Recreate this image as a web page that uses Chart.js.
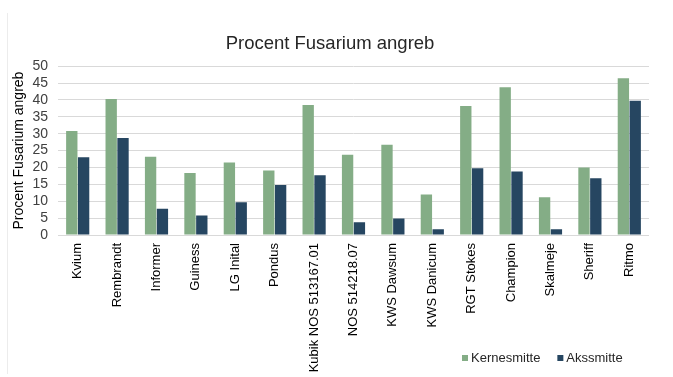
<!DOCTYPE html>
<html>
<head>
<meta charset="utf-8">
<script src="https://cdn.jsdelivr.net/npm/chart.js@4"></script>
<style>
	html, body { margin: 0; padding: 0; background: #fff; }
	canvas { display: block; }
</style>
</head>
<body>
<canvas id="chart" width="673" height="377"></canvas>
<script>
const categories = ['Kvium', 'Rembrandt', 'Informer', 'Guiness', 'LG Inital', 'Pondus',
	'Kubik NOS 513167.01', 'NOS 514218.07', 'KWS Dawsum', 'KWS Danicum', 'RGT Stokes',
	'Champion', 'Skalmeje', 'Sheriff', 'Ritmo'];
const kernesmitte = [30.8, 40.3, 23.2, 18.4, 21.5, 19.1, 38.5, 23.8, 26.7, 12.0, 38.2, 43.8, 11.2, 20.0, 46.4];
const akssmitte = [23.0, 28.7, 7.8, 5.8, 9.7, 14.8, 17.7, 3.8, 4.9, 1.7, 19.8, 18.8, 1.7, 16.8, 39.8];

const font = 'Arial, "Liberation Sans", sans-serif';
Chart.defaults.font.family = font;
Chart.defaults.color = '#404040';

// legend drawn by hand so the long rotated labels can run down beside it
const bottomLegend = {
	id: 'bottomLegend',
	beforeDraw(chart) {
		// faint frame edge on the left, as in the pasted chart
		const ctx = chart.ctx;
		ctx.save();
		ctx.strokeStyle = '#ececec';
		ctx.lineWidth = 1;
		ctx.beginPath();
		ctx.moveTo(7.5, 13);
		ctx.lineTo(7.5, 374);
		ctx.stroke();
		ctx.restore();
	},
	afterDraw(chart) {
		const ctx = chart.ctx;
		ctx.save();
		ctx.font = '13px ' + font;
		ctx.textBaseline = 'middle';
		let x = 462;
		const y = 358;
		chart.data.datasets.forEach((ds) => {
			ctx.fillStyle = ds.backgroundColor;
			ctx.fillRect(x, y - 3, 6, 6);
			ctx.fillStyle = '#262626';
			ctx.fillText(ds.label, x + 9, y);
			x += 9 + ctx.measureText(ds.label).width + 17;
		});
		ctx.restore();
	}
};

const context = document.getElementById('chart').getContext('2d');

const chart = new Chart(context, {
	type: 'bar',
	data: {
		labels: categories,
		datasets: [{
			label: 'Kernesmitte',
			data: kernesmitte,
			backgroundColor: '#84ad86',
			borderWidth: 0,
			categoryPercentage: 0.6,
			barPercentage: 0.96
		}, {
			label: 'Akssmitte',
			data: akssmitte,
			backgroundColor: '#264661',
			borderWidth: 0,
			categoryPercentage: 0.6,
			barPercentage: 0.96
		}]
	},
	options: {
		responsive: false,
		animation: false,
		layout: {
			padding: { left: 11, right: 24, top: 33, bottom: 0 }
		},
		scales: {
			x: {
				grid: { display: false },
				border: { display: false },
				ticks: {
					color: '#000000',
					font: { size: 13 },
					maxRotation: 90,
					minRotation: 90,
					autoSkip: false,
					padding: 0
				},
				afterFit: (scale) => { scale.height = 142; }
			},
			y: {
				min: 0,
				max: 50,
				grid: { color: '#d9d9d9', lineWidth: 1, drawTicks: false },
				border: { display: false },
				ticks: {
					stepSize: 5,
					autoSkip: false,
					color: '#404040',
					font: { size: 14 },
					padding: 10
				},
				title: {
					display: true,
					text: 'Procent Fusarium angreb',
					color: '#000000',
					font: { size: 14 },
					padding: { top: 0, bottom: 2 }
				},
				afterFit: (scale) => { scale.width = 47; }
			}
		},
		plugins: {
			title: {
				display: true,
				text: 'Procent Fusarium angreb',
				color: '#262626',
				font: { size: 18.5, weight: 'normal' },
				padding: { top: 0, bottom: 11 }
			},
			legend: { display: false },
			tooltip: { enabled: false }
		}
	},
	plugins: [bottomLegend]
});
</script>
</body>
</html>
